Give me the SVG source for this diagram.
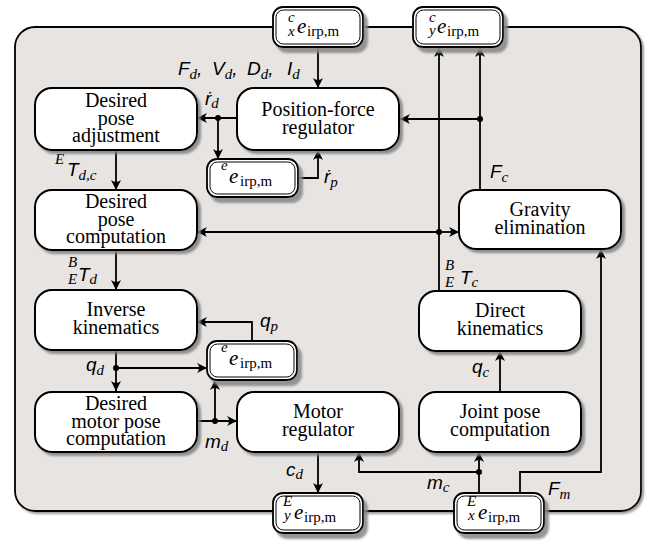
<svg xmlns="http://www.w3.org/2000/svg" width="646" height="541" viewBox="0 0 646 541">
<defs>
<filter id="sh" x="-10%" y="-10%" width="130%" height="130%">
<feDropShadow dx="3" dy="3" stdDeviation="1" flood-color="#808080" flood-opacity="0.85"/>
</filter>
<filter id="sh2" x="-10%" y="-10%" width="130%" height="140%">
<feDropShadow dx="4" dy="5" stdDeviation="1" flood-color="#8a8a8a" flood-opacity="0.9"/>
</filter>
<filter id="sh3" x="-5%" y="-5%" width="110%" height="110%">
<feDropShadow dx="2" dy="2" stdDeviation="1" flood-color="#707070" flood-opacity="0.7"/>
</filter>
<marker id="ar" markerUnits="userSpaceOnUse" markerWidth="14" markerHeight="12" viewBox="-11 -6 12 12" refX="0" refY="0" orient="auto">
<path d="M0,0 L-10,-5 Q-6,0 -10,5 Z" fill="#000"/>
</marker>
<style>
.box{fill:#fff;stroke:#000;stroke-width:2}
.db{fill:#fff;stroke:#000;stroke-width:1.8}
.dbi{fill:none;stroke:#000;stroke-width:1}
.nt{font-size:20px;text-anchor:middle}
.mv{font-family:Liberation Sans,sans-serif;font-style:italic;font-size:19px}
.ms{font-family:Liberation Serif,serif;font-style:italic;font-size:15px}
.me{font-family:Liberation Serif,serif;font-style:italic;font-size:21px}
.mr{font-family:Liberation Serif,serif;font-size:15px}
.cn path{fill:none;stroke:#000;stroke-width:1.8}
.cn .a{marker-end:url(#ar)}
.dot{fill:#000}
</style>
</defs>

<g id="container">
<rect x="15" y="27" width="626" height="484" rx="20" fill="#e7e4e1" stroke="#000" stroke-width="1.8" filter="url(#sh3)"/>
</g>

<g id="connectors" class="cn">
<path class="a" d="M318,47 V88"/>
<path class="a" d="M237,118 H197"/>
<path class="a" d="M218,118 V159"/>
<path class="a" d="M298,178 H318 V150"/>
<path class="a" d="M480,190 V47"/>
<path class="a" d="M480,119 H400"/>
<path class="a" d="M439,291 V47"/>
<path class="a" d="M439,232 H197"/>
<path class="a" d="M439,232 H459"/>
<path class="a" d="M116,150 V190"/>
<path class="a" d="M116,250 V290"/>
<path class="a" d="M116,350 V391"/>
<path class="a" d="M116,368 H207"/>
<path class="a" d="M252,341 V322 H197"/>
<path class="a" d="M197,421 H237"/>
<path class="a" d="M215,421 V380"/>
<path class="a" d="M318,452 V493"/>
<path class="a" d="M479,493 V452"/>
<path class="a" d="M479,472 H359 V452"/>
<path class="a" d="M520,493 V472 H601 V249"/>
<path class="a" d="M500,391 V351"/>
<circle class="dot" cx="218" cy="118" r="3"/>
<circle class="dot" cx="480" cy="119" r="3"/>
<circle class="dot" cx="439" cy="232" r="3"/>
<circle class="dot" cx="116" cy="368" r="3"/>
<circle class="dot" cx="215" cy="421" r="3"/>
<circle class="dot" cx="479" cy="472" r="3"/>
</g>

<g id="labels">
<text y="75"><tspan class="mv" x="178">F</tspan><tspan class="ms" dy="4">d</tspan><tspan class="mv" dy="-4">,</tspan><tspan class="mv" x="212">V</tspan><tspan class="ms" dy="4">d</tspan><tspan class="mv" dy="-4">,</tspan><tspan class="mv" x="247">D</tspan><tspan class="ms" dy="4">d</tspan><tspan class="mv" dy="-4">,</tspan><tspan class="mv" x="287">I</tspan><tspan class="ms" dy="4">d</tspan></text>
<text x="205" y="105"><tspan class="mv">ṙ</tspan><tspan class="ms" dy="3">d</tspan></text>
<text x="324" y="183"><tspan class="mv">ṙ</tspan><tspan class="ms" dy="4">p</tspan></text>
<text x="490" y="178"><tspan class="mv">F</tspan><tspan class="ms" dy="4">c</tspan></text>
<text class="ms" x="55" y="164">E</text>
<text x="67" y="176"><tspan class="mv">T</tspan><tspan class="ms" dy="4">d,c</tspan></text>
<text class="ms" x="68" y="267">B</text>
<text class="ms" x="68" y="284">E</text>
<text x="78" y="281"><tspan class="mv">T</tspan><tspan class="ms" dy="3">d</tspan></text>
<text class="ms" x="445" y="270">B</text>
<text class="ms" x="445" y="287">E</text>
<text x="460" y="284"><tspan class="mv">T</tspan><tspan class="ms" dy="3">c</tspan></text>
<text x="86" y="371"><tspan class="mv">q</tspan><tspan class="ms" dy="4">d</tspan></text>
<text x="260" y="327"><tspan class="mv">q</tspan><tspan class="ms" dy="4">p</tspan></text>
<text x="205" y="448"><tspan class="mv">m</tspan><tspan class="ms" dy="3">d</tspan></text>
<text x="286" y="476"><tspan class="mv">c</tspan><tspan class="ms" dy="3">d</tspan></text>
<text x="427" y="489"><tspan class="mv">m</tspan><tspan class="ms" dy="3">c</tspan></text>
<text x="548" y="495"><tspan class="mv">F</tspan><tspan class="ms" dy="4">m</tspan></text>
<text x="472" y="373"><tspan class="mv">q</tspan><tspan class="ms" dy="4">c</tspan></text>
</g>

<g font-family="Liberation Serif, serif">
<g id="n-desired-pose-adjustment">
<rect class="box" x="35" y="88" width="162" height="62" rx="17" filter="url(#sh)"/>
<text class="nt" x="116" y="107">Desired</text>
<text class="nt" x="116" y="124.5">pose</text>
<text class="nt" x="116" y="142">adjustment</text>
</g>
<g id="n-position-force-regulator">
<rect class="box" x="237" y="88" width="162" height="62" rx="17" filter="url(#sh)"/>
<text class="nt" x="318" y="116">Position-force</text>
<text class="nt" x="318" y="134">regulator</text>
</g>
<g id="n-desired-pose-computation">
<rect class="box" x="35" y="190" width="162" height="60" rx="17" filter="url(#sh)"/>
<text class="nt" x="116" y="208">Desired</text>
<text class="nt" x="116" y="225.5">pose</text>
<text class="nt" x="116" y="243">computation</text>
</g>
<g id="n-gravity-elimination">
<rect class="box" x="459" y="190" width="162" height="59" rx="17" filter="url(#sh)"/>
<text class="nt" x="540" y="216">Gravity</text>
<text class="nt" x="540" y="234">elimination</text>
</g>
<g id="n-inverse-kinematics">
<rect class="box" x="35" y="290" width="162" height="60" rx="17" filter="url(#sh)"/>
<text class="nt" x="116" y="316">Inverse</text>
<text class="nt" x="116" y="334">kinematics</text>
</g>
<g id="n-direct-kinematics">
<rect class="box" x="419" y="291" width="162" height="60" rx="17" filter="url(#sh)"/>
<text class="nt" x="500" y="317">Direct</text>
<text class="nt" x="500" y="335">kinematics</text>
</g>
<g id="n-desired-motor-pose-computation">
<rect class="box" x="35" y="392" width="162" height="60" rx="17" filter="url(#sh)"/>
<text class="nt" x="116" y="410">Desired</text>
<text class="nt" x="116" y="427.5">motor pose</text>
<text class="nt" x="116" y="445">computation</text>
</g>
<g id="n-motor-regulator">
<rect class="box" x="237" y="392" width="162" height="60" rx="17" filter="url(#sh)"/>
<text class="nt" x="318" y="418">Motor</text>
<text class="nt" x="318" y="436">regulator</text>
</g>
<g id="n-joint-pose-computation">
<rect class="box" x="419" y="392" width="162" height="60" rx="17" filter="url(#sh)"/>
<text class="nt" x="500" y="418">Joint pose</text>
<text class="nt" x="500" y="436">computation</text>
</g>
</g>

<g id="m-cx">
<rect class="db" x="273" y="7" width="90" height="40" rx="10" filter="url(#sh2)"/>
<rect class="dbi" x="276" y="10" width="84" height="34" rx="7.5"/>
<text class="ms" x="288" y="22">c</text>
<text class="ms" x="288" y="36">x</text>
<text class="me" x="297" y="33">e</text>
<text class="mr" x="307" y="36">irp,m</text>
</g>
<g id="m-cy">
<rect class="db" x="413" y="7" width="90" height="40" rx="10" filter="url(#sh2)"/>
<rect class="dbi" x="416" y="10" width="84" height="34" rx="7.5"/>
<text class="ms" x="429" y="22">c</text>
<text class="ms" x="429" y="35">y</text>
<text class="me" x="437" y="33">e</text>
<text class="mr" x="447" y="36">irp,m</text>
</g>
<g id="m-e1">
<rect class="db" x="207" y="159" width="91" height="38" rx="10" filter="url(#sh2)"/>
<rect class="dbi" x="210" y="162" width="85" height="32" rx="7.5"/>
<text class="ms" x="221" y="170">e</text>
<text class="me" x="229" y="183">e</text>
<text class="mr" x="240" y="186">irp,m</text>
</g>
<g id="m-e2">
<rect class="db" x="207" y="341" width="90" height="39" rx="10" filter="url(#sh2)"/>
<rect class="dbi" x="210" y="344" width="84" height="33" rx="7.5"/>
<text class="ms" x="221" y="352">e</text>
<text class="me" x="229" y="365">e</text>
<text class="mr" x="240" y="368">irp,m</text>
</g>
<g id="m-ey">
<rect class="db" x="273" y="493" width="90" height="40" rx="10" filter="url(#sh2)"/>
<rect class="dbi" x="276" y="496" width="84" height="34" rx="7.5"/>
<text class="ms" x="283" y="506">E</text>
<text class="ms" x="284" y="520">y</text>
<text class="me" x="294" y="519">e</text>
<text class="mr" x="304" y="522">irp,m</text>
</g>
<g id="m-ex">
<rect class="db" x="454" y="493" width="90" height="40" rx="10" filter="url(#sh2)"/>
<rect class="dbi" x="457" y="496" width="84" height="34" rx="7.5"/>
<text class="ms" x="467" y="506">E</text>
<text class="ms" x="468" y="520">x</text>
<text class="me" x="478" y="519">e</text>
<text class="mr" x="488" y="522">irp,m</text>
</g>
</svg>
